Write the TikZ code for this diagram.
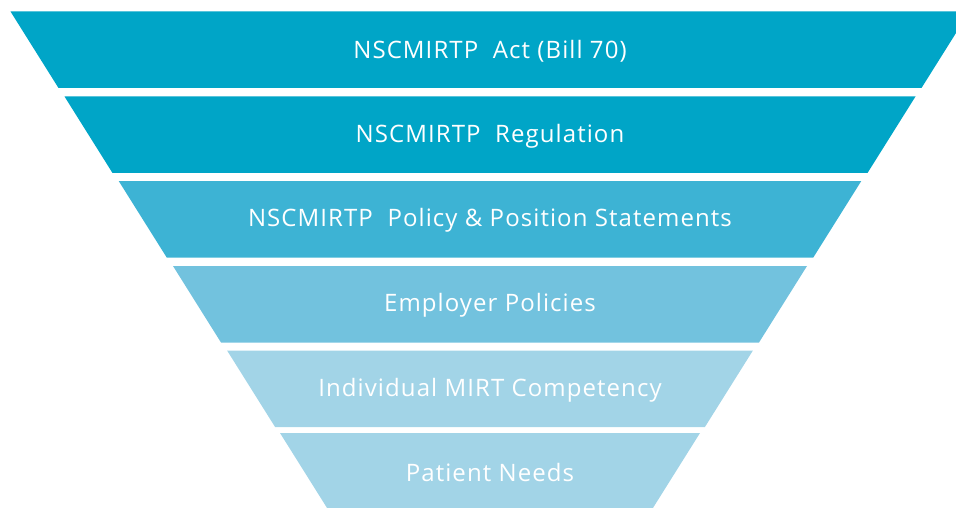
\documentclass[tikz,border=0pt]{standalone}
\usepackage{fontspec}
\setmainfont{Open Sans}[LetterSpace=4.5]
\definecolor{tealdark}{RGB}{0,165,199}
\definecolor{tealmid}{RGB}{61,179,212}
\definecolor{teallight}{RGB}{114,194,222}
\definecolor{tealpale}{RGB}{162,212,231}
\tikzset{layertext/.style = {text=white, font=\fontsize{24}{28}\selectfont}}
\newcommand{\funnellayer}[5]{
  \fill[#4] ({490-#3},#2) -- ({490+#3},#2)
    -- ({490+#3-48},{#2+76.5}) -- ({490-#3+48},{#2+76.5}) -- cycle;
  \node[layertext] (#1) at (490,{#2+39.5}) {#5};
}

\begin{document}
\begin{tikzpicture}[x=1pt,y=-1pt]
	\useasboundingbox (0,0) rectangle (956,508);
	\clip (0,0) rectangle (956,508);
	\funnellayer{act}{11.5}{479.5}{tealdark}{NSCMIRTP\ \ Act (Bill 70)}
	\funnellayer{regulation}{96.5}{425.5}{tealdark}{NSCMIRTP\ \ Regulation}
	\funnellayer{policy}{181}{371.3}{tealmid}{NSCMIRTP\ \ Policy \& Position Statements}
	\funnellayer{employer}{266}{317}{teallight}{Employer Policies}
	\funnellayer{competency}{350.7}{262.8}{tealpale}{Individual MIRT Competency}
	\funnellayer{patient}{433}{210}{tealpale}{Patient Needs}
\end{tikzpicture}
\end{document}
